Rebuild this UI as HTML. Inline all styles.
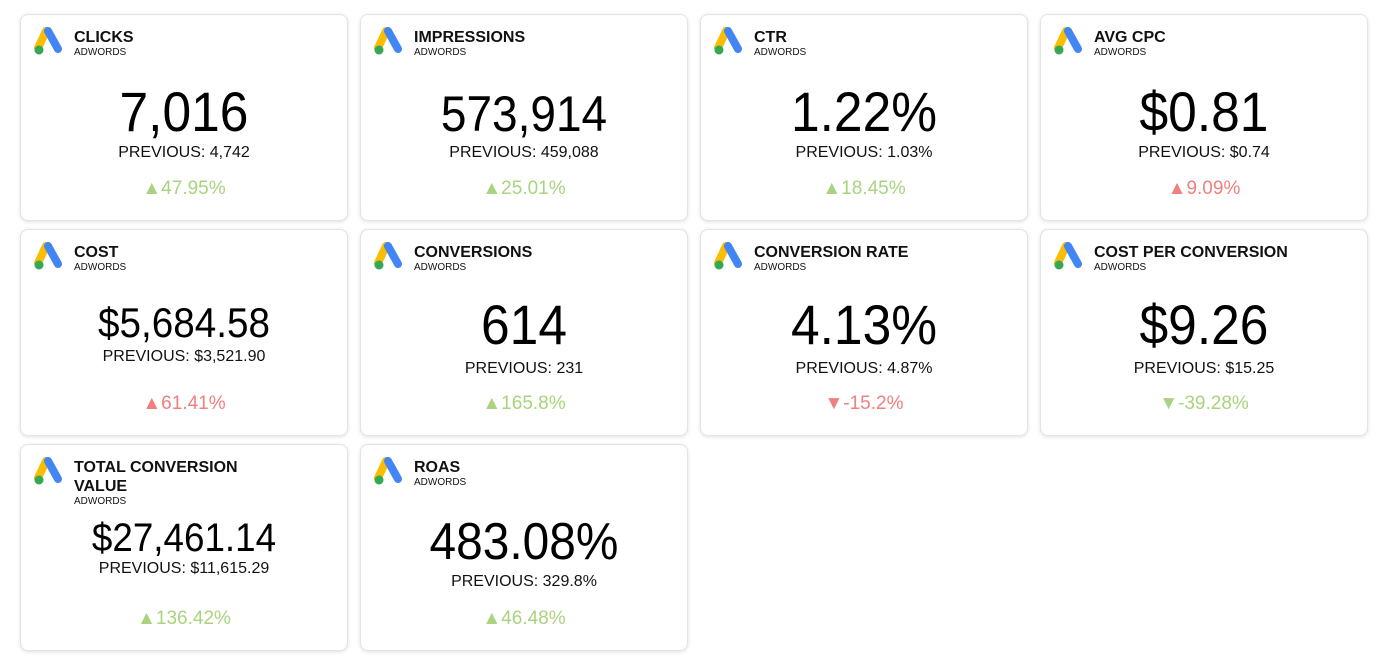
<!DOCTYPE html>
<html><head><meta charset="utf-8"><style>
body{margin:0;width:1389px;height:658px;background:#fff;font-family:"Liberation Sans",sans-serif;position:relative;overflow:hidden}
.card{position:absolute;width:326px;height:205px;border:1px solid #e3e3e3;border-radius:8px;box-shadow:0 1px 4px rgba(0,0,0,.12);background:#fff}
.logo{position:absolute;left:12px;top:12px;width:32px;height:30px}
.title{position:absolute;left:53px;top:13px;font-weight:bold;font-size:16px;color:#111;line-height:19px;width:220px}
.sub{font-size:10px;font-weight:normal;line-height:12px;display:block}
.val{position:absolute;left:0;width:100%;text-align:center;color:#000;line-height:1;transform:scaleX(.92)}
.prev{position:absolute;left:0;width:100%;text-align:center;font-size:16px;color:#111;line-height:1}
.pct{position:absolute;left:0;width:100%;text-align:center;font-size:19px;line-height:1}
.up{color:#a9d37f}.bad{color:#f07f7f}
</style></head><body>
<script>
const titles=["CLICKS","IMPRESSIONS","CTR","AVG CPC","COST","CONVERSIONS","CONVERSION RATE","COST PER CONVERSION","TOTAL CONVERSION VALUE","ROAS"];
const values=["7,016","573,914","1.22%","$0.81","$5,684.58","614","4.13%","$9.26","$27,461.14","483.08%"];
const previous=["4,742","459,088","1.03%","$0.74","$3,521.90","231","4.87%","$15.25","$11,615.29","329.8%"];
const changes=["▲47.95%","▲25.01%","▲18.45%","▲9.09%","▲61.41%","▲165.8%","▼-15.2%","▼-39.28%","▲136.42%","▲46.48%"];
const good=[1,1,1,0,0,1,0,1,1,1];
const sizes=[56,50,56,56,42,56,56,56,40,52];
const valTop=[89,93,89,89,305,302,302,302,521,520];
const prevTop=[144,144,144,144,348,360,360,360,560,573];
const pctTop=[178,178,178,178,393,393,393,393,608,608];
const logo='<svg viewBox="0 0 32 30" width="32" height="30"><path d="M13 4 L5 21" stroke="#fbbc04" stroke-width="8" stroke-linecap="round"/><path d="M15 4 L25 22" stroke="#4285f4" stroke-width="8" stroke-linecap="round"/><circle cx="6" cy="23" r="4.5" fill="#34a853"/></svg>';
titles.forEach((t,i)=>{
 const c=document.createElement('div');
 c.className='card';
 
 
 const col=i%4,row=Math.floor(i/4);
 c.style.left=(20+col*340)+'px';c.style.top=(14+row*215)+'px';
 const y0=14+row*215;
 c.innerHTML='<div class="logo">'+logo+'</div>'+
 '<div class="title">'+t+'<span class="sub">ADWORDS</span></div>'+
 '<div class="val" style="font-size:'+sizes[i]+'px;top:'+(valTop[i]-y0-sizes[i]*0.1)+'px">'+values[i]+'</div>'+
 '<div class="prev" style="top:'+(prevTop[i]-y0)+'px">PREVIOUS: '+previous[i]+'</div>'+
 '<div class="pct '+(good[i]?'up':'bad')+'" style="top:'+(pctTop[i]-y0)+'px">'+changes[i]+'</div>';
 document.body.appendChild(c);
});
</script>
</body></html>
